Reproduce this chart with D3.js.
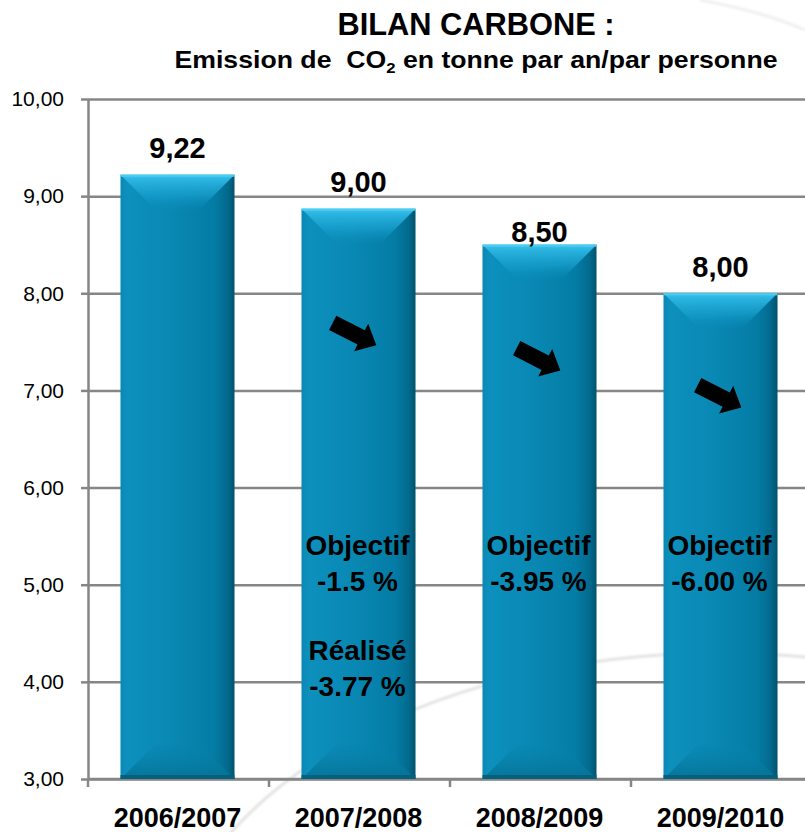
<!DOCTYPE html>
<html>
<head>
<meta charset="utf-8">
<script src="https://cdn.jsdelivr.net/npm/d3@7"></script>
<style>
  body { margin: 0; background: #fff; }
  text { font-family: "Liberation Sans", Arial, sans-serif; }
</style>
</head>
<body>
<div id="chart"></div>
<script>
// data
const periods = ["2006/2007", "2007/2008", "2008/2009", "2009/2010"];
const emissions = [9.22, 8.87, 8.50, 8.00];
const valueLabels = ["9,22", "9,00", "8,50", "8,00"];
const targetNotes = [[], ["Objectif", "-1.5 %"], ["Objectif", "-3.95 %"], ["Objectif", "-6.00 %"]];
const achievedNotes = [[], ["Réalisé", "-3.77 %"], [], []];
const arrowLevels = [null, 7.58, 7.32, 6.94];
const yDomain = [3, 10];

const width = 805, height = 832;
const margin = {top: 99, right: -7, bottom: 53, left: 88};

const svg = d3.select("#chart")
    .append("svg")
        .attr("width", width)
        .attr("height", height);

const defs = svg.append("defs");

let gradBody = defs.append("linearGradient").attr("id", "barBody");
[[0, "#0a88b5"], [0.06, "#0d90bd"], [0.45, "#0988b3"], [0.82, "#047ca5"], [0.94, "#036a8d"], [1, "#02526d"]]
    .forEach(s => gradBody.append("stop").attr("offset", s[0]).attr("stop-color", s[1]));

let gradTop = defs.append("linearGradient").attr("id", "barTop")
    .attr("x1", 0).attr("y1", 0).attr("x2", 0).attr("y2", 1);
[[0, "#3cc5ef", 1], [0.12, "#2db6e2", 1], [0.55, "#1aa2d0", 0.7], [1, "#0b8fbd", 0]]
    .forEach(s => gradTop.append("stop").attr("offset", s[0]).attr("stop-color", s[1]).attr("stop-opacity", s[2]));

let gradBottom = defs.append("linearGradient").attr("id", "barBottom")
    .attr("x1", 0).attr("y1", 0).attr("x2", 0).attr("y2", 1);
[[0, "#0784ae", 0.3], [1, "#067397", 1]]
    .forEach(s => gradBottom.append("stop").attr("offset", s[0]).attr("stop-color", s[1]).attr("stop-opacity", s[2]));

defs.append("filter").attr("id", "soft")
    .append("feGaussianBlur").attr("stdDeviation", 1);

const x = d3.scaleBand()
    .domain(periods)
    .range([margin.left, width - margin.right]);

const y = d3.scaleLinear()
    .domain(yDomain)
    .range([height - margin.bottom, margin.top]);

const comma = d3.formatLocale({decimal: ",", thousands: " ", grouping: [3], currency: ["", "€"]}).format(".2f");

// faint background swoosh
svg.append("ellipse")
    .attr("cx", 720).attr("cy", 1003).attr("rx", 560).attr("ry", 350)
    .attr("fill", "none").attr("stroke", "#e3e3e3").attr("stroke-width", 3)
    .attr("filter", "url(#soft)");
svg.append("path")
    .attr("d", "M700,0 Q765,12 805,30")
    .attr("fill", "none").attr("stroke", "#f0f0f0").attr("stroke-width", 3)
    .attr("filter", "url(#soft)");

// gridlines + left axis
let yAxis = svg.append("g")
    .attr("transform", `translate(${margin.left},0)`)
    .call(d3.axisLeft(y).ticks(7).tickFormat(comma).tickSize(7).tickSizeOuter(0));
yAxis.select(".domain").attr("stroke", "#868686").attr("stroke-width", 2.5);
yAxis.selectAll(".tick line").attr("stroke", "#868686").attr("stroke-width", 2.5);
yAxis.selectAll(".tick text")
    .attr("x", -24)
    .attr("font-size", 21)
    .attr("font-family", "'Liberation Sans', Arial, sans-serif")
    .attr("fill", "#000");
yAxis.selectAll(".tick")
    .append("line")
        .attr("x2", width - margin.left)
        .attr("stroke", "#868686")
        .attr("stroke-width", 2.5);

// bottom axis
let xAxis = svg.append("g")
    .attr("transform", `translate(0,${y(yDomain[0])})`);
xAxis.append("line")
    .attr("x1", margin.left).attr("x2", width)
    .attr("stroke", "#868686").attr("stroke-width", 2.5);
xAxis.selectAll(".sep")
    .data(periods)
    .join("line")
        .attr("x1", d => x(d)).attr("x2", d => x(d))
        .attr("y1", 0).attr("y2", 8)
        .attr("stroke", "#868686").attr("stroke-width", 2.5);
xAxis.selectAll(".cat")
    .data(periods)
    .join("text")
        .attr("x", d => x(d) + x.bandwidth() / 2 - 1)
        .attr("y", 48)
        .attr("text-anchor", "middle")
        .attr("font-size", 27)
        .attr("font-weight", "bold")
        .text(d => d);

// bars
const barW = x.bandwidth() * 0.63;
const bevelTop = 36, bevelBottom = 34;
let bars = svg.selectAll(".bar")
    .data(periods)
    .join("g")
        .attr("class", "bar")
        .attr("transform", d => `translate(${x(d) + x.bandwidth() / 2 - 1 - barW / 2},0)`);

bars.append("rect")
    .attr("y", (d, i) => y(emissions[i]))
    .attr("width", barW)
    .attr("height", (d, i) => y(yDomain[0]) - y(emissions[i]))
    .attr("fill", "url(#barBody)");
bars.append("path")
    .attr("d", (d, i) => {
        let t = y(emissions[i]);
        return `M0,${t}H${barW}L${barW - bevelTop},${t + bevelTop}H${bevelTop}Z`;
    })
    .attr("fill", "url(#barTop)");
bars.append("path")
    .attr("d", () => {
        let b = y(yDomain[0]);
        return `M0,${b}H${barW}L${barW - bevelBottom},${b - bevelBottom}H${bevelBottom}Z`;
    })
    .attr("fill", "url(#barBottom)");
bars.append("rect")
    .attr("y", y(yDomain[0]) - 4)
    .attr("width", barW)
    .attr("height", 4)
    .attr("fill", "#05607e");
bars.append("rect")
    .attr("y", (d, i) => y(emissions[i]))
    .attr("width", barW)
    .attr("height", 2)
    .attr("fill", "#48cdf3");

// value labels
const labelGap = [17, 17, 3, 16];
svg.selectAll(".val")
    .data(periods)
    .join("text")
        .attr("x", d => x(d) + x.bandwidth() / 2 - 1)
        .attr("y", (d, i) => y(emissions[i]) - labelGap[i])
        .attr("text-anchor", "middle")
        .attr("font-size", 29)
        .attr("font-weight", "bold")
        .text((d, i) => valueLabels[i]);

// arrows
const arrowPath = "M-24.5,-8L7.5,-8L7.5,-15.5L24.5,0L7.5,15.5L7.5,8L-24.5,8Z";
svg.selectAll(".arrow")
    .data(periods.filter((d, i) => arrowLevels[i] != null))
    .join("path")
        .attr("d", arrowPath)
        .attr("fill", "#000")
        .attr("transform", d => {
            let i = periods.indexOf(d);
            let dx = i == 1 ? -5 : -2;
            return `translate(${x(d) + x.bandwidth() / 2 + dx},${y(arrowLevels[i])}) rotate(27)`;
        });

// objectives / achieved notes
function notes(list, level) {
    periods.forEach((p, i) => {
        list[i].forEach((line, j) => {
            svg.append("text")
                .attr("x", x(p) + x.bandwidth() / 2 - 2)
                .attr("y", y(level) + j * 36)
                .attr("text-anchor", "middle")
                .attr("font-size", 28)
                .attr("font-weight", "bold")
                .text(line);
        });
    });
}
notes(targetNotes, 5.31);
notes(achievedNotes, 4.23);

// title
svg.append("text")
    .attr("x", 476).attr("y", 35)
    .attr("text-anchor", "middle")
    .attr("font-size", 32)
    .attr("font-weight", "bold")
    .attr("textLength", 277)
    .attr("lengthAdjust", "spacingAndGlyphs")
    .text("BILAN CARBONE :");
let sub = svg.append("text")
    .attr("x", 476).attr("y", 68)
    .attr("text-anchor", "middle")
    .attr("font-size", 24)
    .attr("font-weight", "bold")
    .attr("textLength", 603)
    .attr("lengthAdjust", "spacingAndGlyphs");
sub.append("tspan").text("Emission de\u00a0 CO");
sub.append("tspan").attr("font-size", 15).attr("dy", 5).text("2");
sub.append("tspan").attr("dy", -5).text(" en tonne par an/par personne");
</script>
</body>
</html>
